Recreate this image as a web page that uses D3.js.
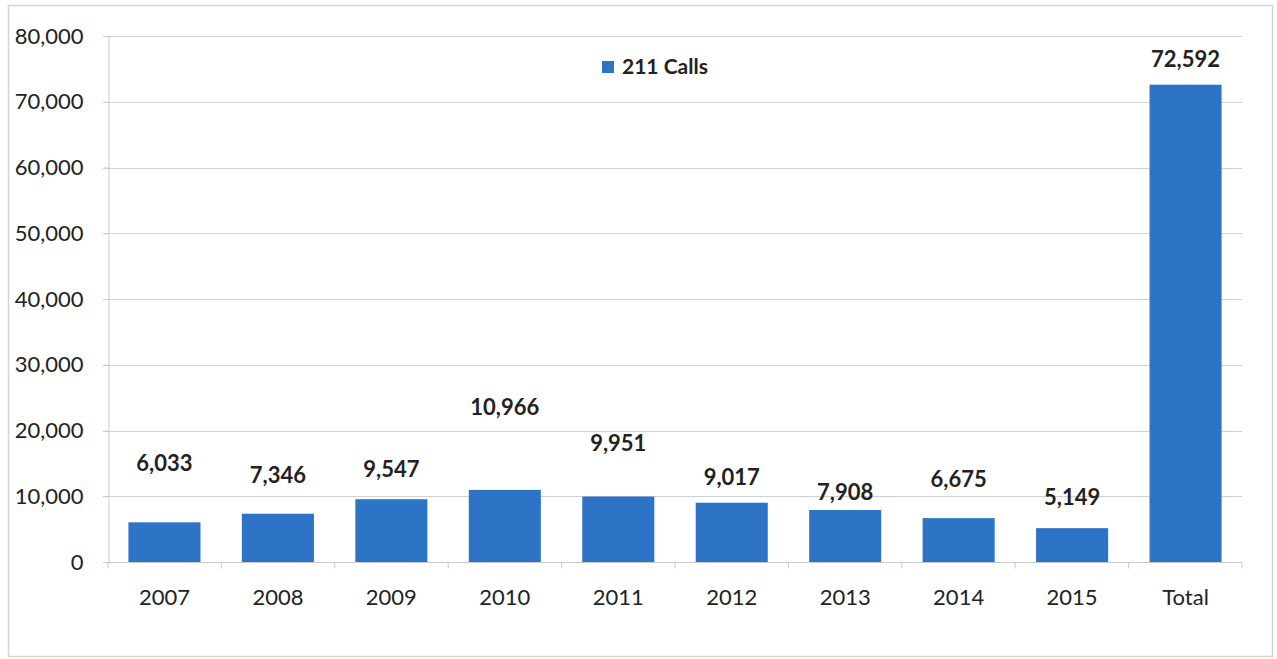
<!DOCTYPE html>
<html>
<head>
<meta charset="utf-8">
<script src="https://cdn.jsdelivr.net/npm/d3@7"></script>
<style>
  html, body { margin: 0; padding: 0; background: #fff; }
  svg { display: block; }
  text { font-family: Lato, "Open Sans", sans-serif; fill: #222; }
</style>
</head>
<body>
<svg id="chart" width="1277" height="659"></svg>
<script>
// Yearly 211 call counts plus the overall total
const categories = ["2007", "2008", "2009", "2010", "2011", "2012", "2013", "2014", "2015", "Total"];
const calls = [6033, 7346, 9547, 10966, 9951, 9017, 7908, 6675, 5149, 72592];
const yTicks = [0, 10000, 20000, 30000, 40000, 50000, 60000, 70000, 80000];
const seriesName = "211 Calls";
// How far each value label sits above its bar (px)
const labelLift = [59, 38, 30, 83, 53, 25, 18, 39, 31, 25];

const W = 1277, H = 659;
const margin = { left: 108, right: 35, top: 36, bottom: 97 };
const svg = d3.select("#chart");
const barColor = "#2e74c6";

// outer frame
svg.append("rect")
  .attr("x", 8.5).attr("y", 5.5)
  .attr("width", 1264).attr("height", 651)
  .attr("fill", "none").attr("stroke", "#d4d4d4").attr("stroke-width", 1.5);

const x = d3.scaleBand()
  .domain(categories)
  .range([margin.left, W - margin.right])
  .paddingInner(0.365).paddingOuter(0.18);

const y = d3.scaleLinear()
  .domain([0, 80000])
  .range([H - margin.bottom, margin.top]);

// gridlines
svg.append("g")
  .selectAll("line")
  .data(yTicks.filter(d => d > 0))
  .join("line")
  .attr("x1", margin.left - 5).attr("x2", W - margin.right)
  .attr("y1", d => Math.round(y(d)) + 0.5).attr("y2", d => Math.round(y(d)) + 0.5)
  .attr("stroke", "#d0d0d0").attr("stroke-width", 1);

// y axis
const yAxis = svg.append("g")
  .attr("transform", `translate(${margin.left + 0.5},0)`)
  .call(d3.axisLeft(y).tickValues(yTicks).tickFormat(d3.format(",")).tickSize(5).tickPadding(20));
yAxis.select(".domain").attr("stroke", "#c8c8c8");
yAxis.selectAll(".tick line").attr("stroke", "#c8c8c8");
yAxis.selectAll("text").attr("font-size", 22).attr("fill", "#333").style("font-family", "Lato, sans-serif");

// x axis with ticks at category boundaries
const xAxisG = svg.append("g")
  .attr("transform", `translate(0,${Math.round(y(0)) + 0.5})`);
xAxisG.append("line")
  .attr("x1", margin.left - 5).attr("x2", W - margin.right)
  .attr("stroke", "#c8c8c8");
const step = x.step();
const bounds = d3.range(categories.length + 1).map(i => margin.left + (W - margin.right - margin.left) * i / categories.length);
xAxisG.selectAll(".bt").data(bounds).join("line")
  .attr("x1", d => d).attr("x2", d => d)
  .attr("y1", 0).attr("y2", 6)
  .attr("stroke", "#c8c8c8");
xAxisG.selectAll(".xl").data(categories).join("text")
  .attr("x", d => x(d) + x.bandwidth() / 2)
  .attr("y", 42)
  .attr("text-anchor", "middle")
  .attr("font-size", 22)
  .attr("fill", "#333")
  .text(d => d);

// bars
svg.append("g")
  .selectAll("rect")
  .data(categories)
  .join("rect")
  .attr("x", d => x(d))
  .attr("width", x.bandwidth())
  .attr("y", (d, i) => y(calls[i]))
  .attr("height", (d, i) => y(0) - y(calls[i]))
  .attr("fill", barColor);

// value labels
svg.append("g")
  .selectAll("text")
  .data(categories)
  .join("text")
  .attr("x", d => x(d) + x.bandwidth() / 2)
  .attr("y", (d, i) => y(calls[i]) - labelLift[i])
  .attr("dy", "0.35em")
  .attr("text-anchor", "middle")
  .attr("font-size", 22)
  .attr("font-weight", "bold")
  .text((d, i) => d3.format(",")(calls[i]));

// legend
const legend = svg.append("g").attr("transform", "translate(602,61)");
legend.append("rect").attr("width", 12).attr("height", 12).attr("fill", barColor);
legend.append("text")
  .attr("x", 20).attr("y", 6).attr("dy", "0.35em")
  .attr("font-size", 21).attr("font-weight", "bold")
  .text(seriesName);
</script>
</body>
</html>
